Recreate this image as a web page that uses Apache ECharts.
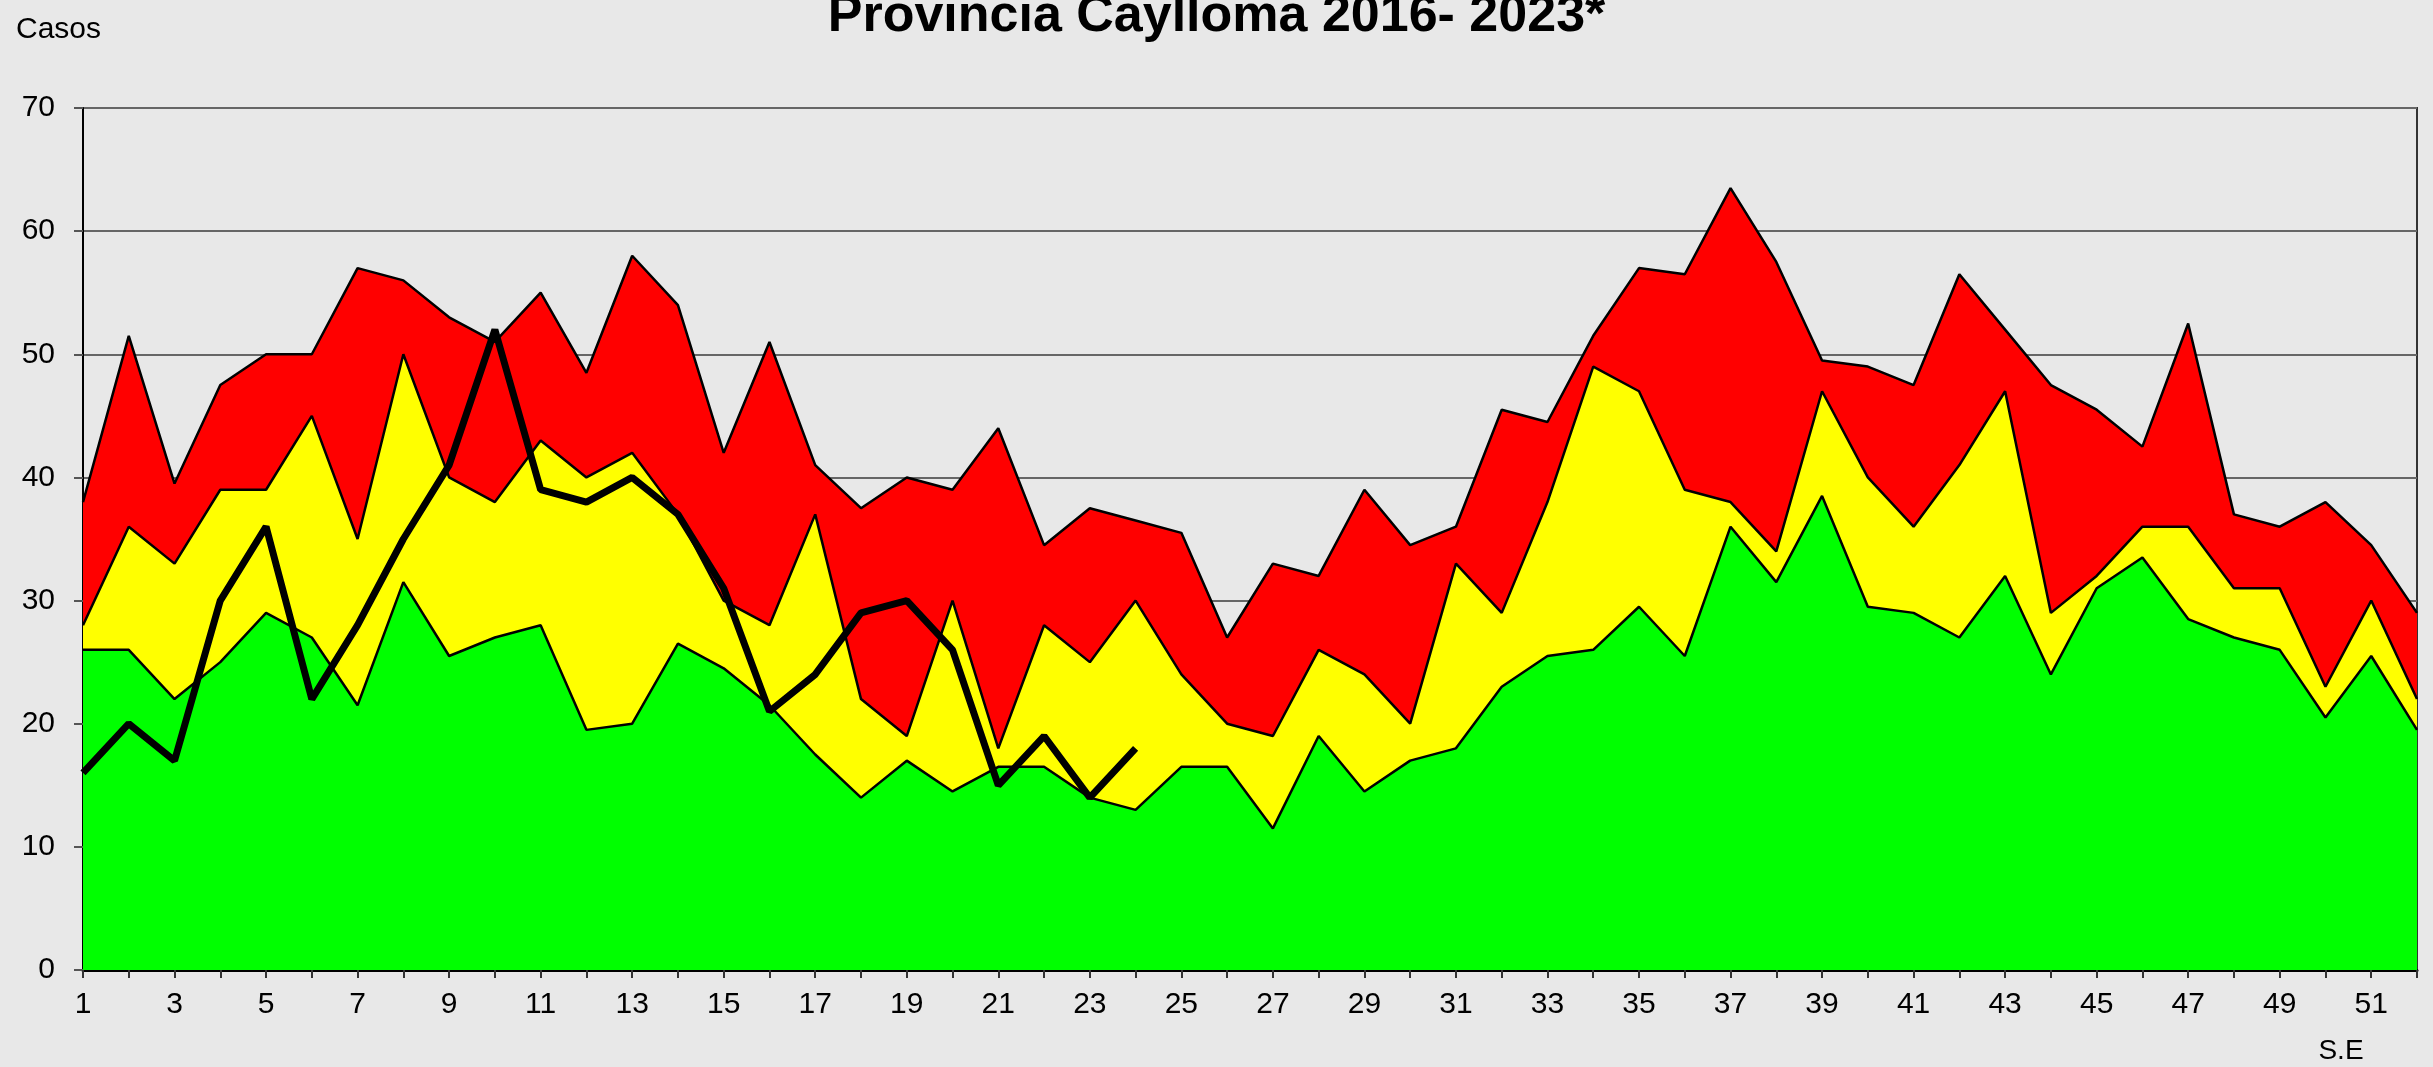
<!DOCTYPE html>
<html>
<head>
<meta charset="utf-8">
<script src="https://cdn.jsdelivr.net/npm/echarts@6/dist/echarts.min.js"></script>
<style>
html,body{margin:0;padding:0;background:#E8E8E8;}
#chart{width:2433px;height:1067px;}
</style>
</head>
<body>
<div id="chart"></div>
<script>
// Semana epidemiológica (S.E)
const weeks = Array.from({length:52},(_,i)=>String(i+1));
// Upper limit of each zone (cases)
const greenZone  = [26,26,22,25,29,27,21.5,31.5,25.5,27, 28,19.5,20,26.5,24.5,21.5,17.5,14,17,14.5, 16.5,16.5,14,13,16.5,16.5,11.5,19,14.5,17, 18,23,25.5,26,29.5,25.5,36,31.5,38.5,29.5, 29,27,32,24,31,33.5,28.5,27,26,20.5, 25.5,19.5];
const yellowZone = [28,36,33,39,39,45,35,50,40,38, 43,40,42,37,30,28,37,22,19,30, 18,28,25,30,24,20,19,26,24,20, 33,29,38,49,47,39,38,34,47,40, 36,41,47,29,32,36,36,31,31,23, 30,22];
const redZone    = [38,51.5,39.5,47.5,50,50,57,56,53,51, 55,48.5,58,54,42,51,41,37.5,40,39, 44,34.5,37.5,36.5,35.5,27,33,32,39,34.5, 36,45.5,44.5,51.5,57,56.5,63.5,57.5,49.5,49, 47.5,56.5,52,47.5,45.5,42.5,52.5,37,36,38, 34.5,29];
const cases2023  = [16,20,17,30,36,22,28,35,41,52, 39,38,40,37,31,21,24,29,30,26, 15,19,14,18];

const FONT = 'Liberation Sans, Arial, sans-serif';
const chart = echarts.init(document.getElementById('chart'), null, {renderer:'canvas'});

function zone(name, data, color){
  return {
    name, type:'line', data, symbol:'none', smooth:false,
    lineStyle:{color:'#000', width:2.5},
    areaStyle:{color, opacity:1, origin:'start'},
    itemStyle:{color},
    animation:false, silent:true
  };
}

chart.setOption({
  backgroundColor:'#E8E8E8',
  animation:false,
  title:{
    text:'Provincia Caylloma 2016- 2023*',
    left:'center', top:-14,
    textStyle:{fontFamily:FONT, fontWeight:'bold', fontSize:52, color:'#000'}
  },
  graphic:[
    {type:'text', style:{text:'Casos', x:16, y:30, align:'left', verticalAlign:'middle', fontFamily:FONT, fontSize:30, fill:'#000'}},
    {type:'text', style:{text:'S.E', x:2341, y:1051, align:'center', verticalAlign:'middle', fontFamily:FONT, fontSize:28, fill:'#000'}}
  ],
  grid:{left:83, right:16, top:108, bottom:97, show:true, borderColor:'#333', borderWidth:2, backgroundColor:'transparent'},
  xAxis:{
    type:'category', data:weeks, boundaryGap:false,
    axisLine:{lineStyle:{color:'#000', width:3}},
    axisTick:{show:true, interval:0, length:8, lineStyle:{color:'#333', width:2}},
    axisLabel:{interval:1, margin:20, fontFamily:FONT, fontSize:30, color:'#000'},
    splitLine:{show:false}
  },
  yAxis:{
    type:'value', min:0, max:70, interval:10,
    axisLine:{show:true, lineStyle:{color:'#000', width:2}},
    axisTick:{show:true, length:9, lineStyle:{color:'#555', width:2}},
    axisLabel:{margin:28, fontFamily:FONT, fontSize:30, color:'#000'},
    splitLine:{show:true, lineStyle:{color:'#666', width:2}}
  },
  series:[
    zone('Epidemia', redZone, '#FF0000'),
    zone('Alarma', yellowZone, '#FFFF00'),
    zone('Seguridad', greenZone, '#00FF00'),
    {name:'2023', type:'line', data:cases2023, symbol:'none', lineStyle:{color:'#000', width:7}, itemStyle:{color:'#000'}, z:5, animation:false}
  ]
});
</script>
</body>
</html>
